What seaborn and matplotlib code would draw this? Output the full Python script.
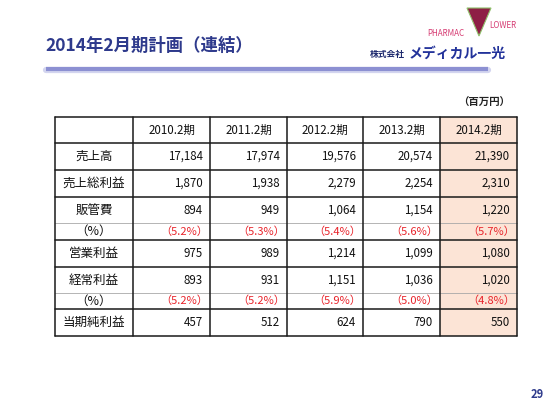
import matplotlib.pyplot as plt
import seaborn as sns
from matplotlib.patches import Polygon

# data (million yen)
periods = ["2010.2期", "2011.2期", "2012.2期", "2013.2期", "2014.2期"]
row_labels = ["売上高", "売上総利益", "販管費", "（%）", "営業利益", "経常利益", "（%）", "当期純利益"]
sales = [17184, 17974, 19576, 20574, 21390]
gross_profit = [1870, 1938, 2279, 2254, 2310]
sga = [894, 949, 1064, 1154, 1220]
sga_ratio = [5.2, 5.3, 5.4, 5.6, 5.7]
operating_profit = [975, 989, 1214, 1099, 1080]
ordinary_profit = [893, 931, 1151, 1036, 1020]
ordinary_ratio = [5.2, 5.2, 5.9, 5.0, 4.8]
net_income = [457, 512, 624, 790, 550]

sns.set_theme(style="white")
plt.rcParams["font.family"] = ["Noto Sans CJK JP", "DejaVu Sans"]

NAVY = "#2E3A8C"
PEACH = "#FCE4D6"

fig = plt.figure(figsize=(5.6, 4.2), dpi=100)
ax = fig.add_axes([0, 0, 1, 1])
ax.set_xlim(0, 560)
ax.set_ylim(420, 0)
ax.axis("off")

# header
ax.text(45, 46, "2014年2月期計画（連結）", fontsize=12.5, fontweight="bold",
        color=NAVY, va="center", ha="left")
ax.plot([46, 488], [70, 70], color="#D3D5EF", lw=4.5, solid_capstyle="round")
ax.plot([46, 488], [69, 69], color="#8C90D2", lw=3.0, solid_capstyle="butt")

# logo
ax.add_patch(Polygon([[467, 8], [491, 8], [479, 36]], closed=True,
                     facecolor="#8E1F45", edgecolor="#8FC06A", lw=0.8))
ax.text(464, 33, "PHARMAC", fontsize=5.8, color="#D63C73", ha="right", va="center")
ax.text(489, 25, "LOWER", fontsize=5.8, color="#D63C73", ha="left", va="center")
ax.text(370, 55, "株式会社", fontsize=6.3, fontweight="bold", color="#1E2A6E",
        ha="left", va="center")
ax.text(409, 54, "メディカル一光", fontsize=10, fontweight="bold", color="#22329A",
        ha="left", va="center")

ax.text(510, 103, "（百万円）", fontsize=7.5, fontweight="bold", color="#222222",
        ha="right", va="center")

# table layout
col_edges = [55, 133, 210, 287, 363, 440, 517]
row_heights = [26, 27, 27, 26, 17, 27, 26, 16, 27]
row_edges = [117]
for h in row_heights:
    row_edges.append(row_edges[-1] + h)

body = [sales, gross_profit, sga, sga_ratio, operating_profit,
        ordinary_profit, ordinary_ratio, net_income]
is_ratio = [False, False, False, True, False, False, True, False]

# highlighted plan column
hi = len(periods)
ax.axvspan(col_edges[hi], col_edges[hi + 1], ymin=1 - row_edges[-1] / 420,
           ymax=1 - row_edges[0] / 420, color=PEACH, lw=0, zorder=0)

fs = 8.3
for j, p in enumerate(periods):
    xc = (col_edges[j + 1] + col_edges[j + 2]) / 2
    yc = (row_edges[0] + row_edges[1]) / 2
    ax.text(xc, yc, p, fontsize=fs, ha="center", va="center", color="#111111")

for i, (label, values) in enumerate(zip(row_labels, body)):
    yc = (row_edges[i + 1] + row_edges[i + 2]) / 2
    xc = (col_edges[0] + col_edges[1]) / 2
    ax.text(xc, yc, label, fontsize=fs + 0.7, ha="center", va="center",
            color="#111111")
    for j, v in enumerate(values):
        if is_ratio[i]:
            txt = f"（{v:.1f}%）"
            ax.text(col_edges[j + 2] - 2, yc, txt, fontsize=fs - 0.3,
                    ha="right", va="center", color="#E8242B")
        else:
            ax.text(col_edges[j + 2] - 7, yc, f"{v:,}", fontsize=fs,
                    ha="right", va="center", color="#111111")

# grid lines
for k, y in enumerate(row_edges):
    thin = k in (4, 7)
    ax.plot([col_edges[0], col_edges[-1]], [y, y],
            color="#A8A8A8" if thin else "#1A1A1A",
            lw=0.6 if thin else 1.1, zorder=3)
for x in col_edges:
    ax.plot([x, x], [row_edges[0], row_edges[-1]], color="#1A1A1A", lw=1.1,
            zorder=3)

ax.text(537, 395, "29", fontsize=8, fontweight="bold", color=NAVY,
        ha="center", va="center")

fig.savefig("out.png", dpi=100)
